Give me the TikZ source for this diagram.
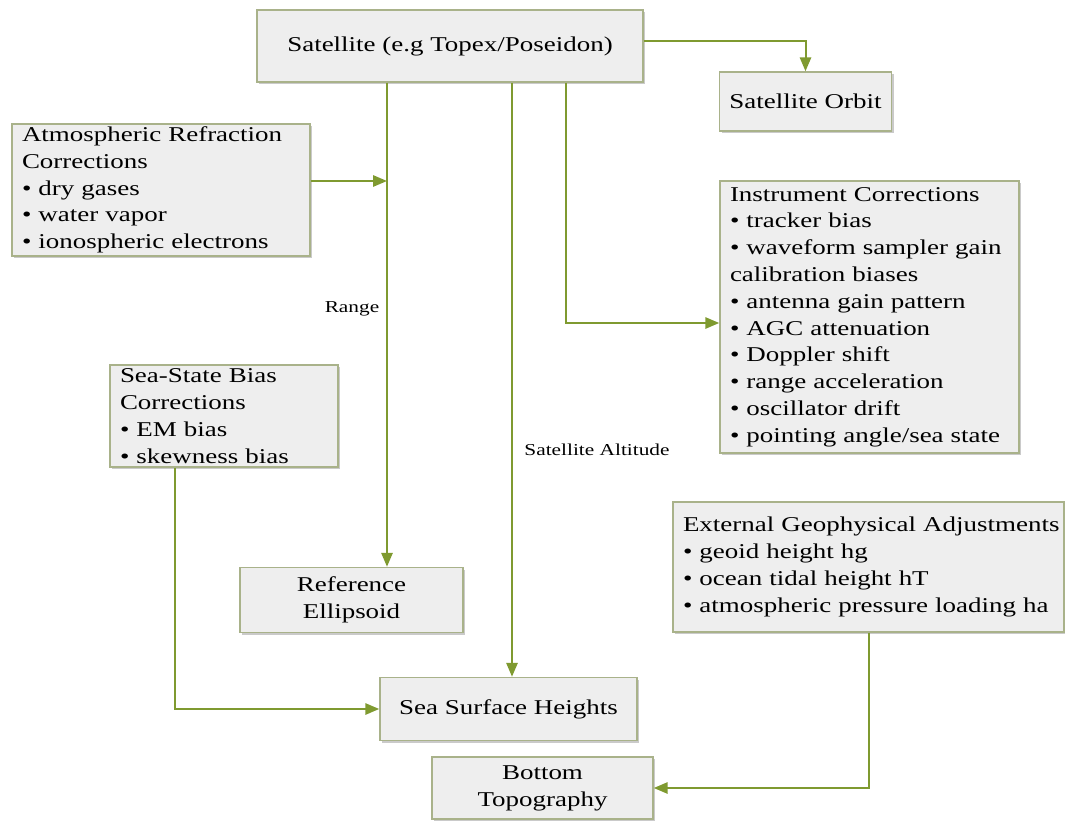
\documentclass[tikz,border=0pt]{standalone}
\usepackage{fontspec}
\setmainfont{Liberation Serif}[FakeStretch=1.28]
\usetikzlibrary{arrows.meta,shadows,calc}
\definecolor{arrcol}{HTML}{7F9A30}
\definecolor{boxline}{HTML}{A9B28A}
\definecolor{boxfill}{HTML}{EEEEEE}
\begin{document}
\begin{tikzpicture}[x=0.75pt,y=-0.75pt,
  box/.style={draw=boxline,line width=1.1pt,fill=boxfill,
    drop shadow={opacity=0.35,shadow xshift=1.6pt,shadow yshift=-1.6pt,fill=black!60},
    inner xsep=7.5pt,inner ysep=0pt,font=\fontsize{15.8}{20.1}\selectfont},
  lbox/.style={box,align=left},
  cbox/.style={box,align=center},
  arr/.style={draw=arrcol,line width=1.5pt,-{Triangle[length=10.5pt,width=8.5pt]},arrcol},
  lab/.style={font=\fontsize{12.5}{15}\selectfont,inner sep=0pt}]
\useasboundingbox (0,0) rectangle (1065,821);
% boxes
\node[cbox,minimum width=289.5pt,minimum height=54pt] (sat) at (450,46) {Satellite (e.g Topex/Poseidon)};
\node[cbox,minimum width=128.25pt,minimum height=44.25pt] (orbit) at (805.5,101.5) {Satellite Orbit};
\node[lbox,minimum width=223.5pt,minimum height=99pt,text width=208.5pt] (atm) at (161,190)
  {Atmospheric Refraction\\Corrections\\\textbullet{} dry gases\\\textbullet{} water vapor\\\textbullet{} ionospheric electrons};
\node[lbox,minimum width=224.25pt,minimum height=204pt,text width=209.25pt] (inst) at (869.5,317)
  {Instrument Corrections\\\textbullet{} tracker bias\\\textbullet{} waveform sampler gain\\calibration biases\\\textbullet{} antenna gain pattern\\\textbullet{} AGC attenuation\\\textbullet{} Doppler shift\\\textbullet{} range acceleration\\\textbullet{} oscillator drift\\\textbullet{} pointing angle/sea state};
\node[lbox,minimum width=171pt,minimum height=76.5pt,text width=156pt] (ss) at (224,416)
  {Sea-State Bias\\Corrections\\\textbullet{} EM bias\\\textbullet{} skewness bias};
\node[cbox,minimum width=167.25pt,minimum height=48.75pt] (ref) at (351.5,600) {Reference\\Ellipsoid};
\node[cbox,minimum width=192.75pt,minimum height=47.25pt] (ssh) at (508.5,709) {Sea Surface Heights};
\node[cbox,minimum width=165.75pt,minimum height=46.5pt] (bot) at (542.5,788) {Bottom\\Topography};
\node[lbox,minimum width=293.25pt,minimum height=97.5pt,text width=278.25pt] (ext) at (868.5,567)
  {\mbox{External Geophysical Adjustments}\\\textbullet{} geoid height hg\\\textbullet{} ocean tidal height hT\\\mbox{\textbullet{} atmospheric pressure loading ha}};
% helper coordinates
\coordinate (rangex) at (387,0);
\coordinate (altx) at (512,0);
\coordinate (instx) at (566,0);
\coordinate (ssx) at (175,0);
\coordinate (atmy) at (0,181);
\coordinate (insty) at (0,323);
\coordinate (saty) at (0,41);
% connectors
\draw[arr] (sat.east |- saty) -| (orbit.north);
\draw[arr] (sat.south -| rangex) -- (ref.north -| rangex);
\draw[arr] (atm.east |- atmy) -- (rangex |- atmy);
\draw[arr] (sat.south -| altx) -- (ssh.north -| altx);
\draw[arr] (sat.south -| instx) |- (inst.west |- insty);
\draw[arr] (ss.south -| ssx) |- (ssh.west);
\draw[arr] (ext.south) |- (bot.east);
% labels
\node[lab] (lrange) at (352,309) {Range};
\node[lab] (lalt) at (597,450) {Satellite Altitude};
\end{tikzpicture}
\end{document}
